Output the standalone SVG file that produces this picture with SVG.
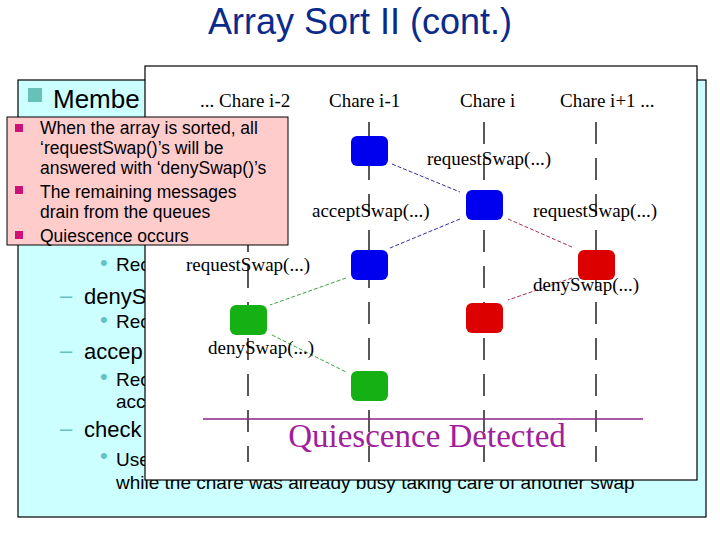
<svg xmlns="http://www.w3.org/2000/svg" width="720" height="540" viewBox="0 0 720 540">
<style>
.s{font-family:"Liberation Sans",Arial,sans-serif}
.bg{font-family:"Liberation Sans",Arial,sans-serif;font-size:22px;fill:#000}
.sm{font-family:"Liberation Sans",Arial,sans-serif;font-size:19px;fill:#000}
.dash{fill:#66c2c2;font-size:22px;font-family:"Liberation Sans",Arial,sans-serif}
.col{stroke:#000;stroke-width:1.3;stroke-dasharray:22,14}
.lbl{font-family:"Liberation Serif","Times New Roman",serif;font-size:19px;fill:#000}
.pk{font-family:"Liberation Sans",Arial,sans-serif;font-size:17.5px;fill:#000}
</style>
<rect width="720" height="540" fill="#fff"/>
<text x="360" y="34" text-anchor="middle" class="s" font-size="36" fill="#0a2a8c">Array Sort II (cont.)</text>
<g id="background-box">
<rect x="18" y="80" width="688" height="437" fill="#ccffff" stroke="#000" stroke-width="1.2"/>
<rect x="28" y="88" width="14" height="14" fill="#66c2b8"/>
<text x="53" y="108" class="s" font-size="26">Membe</text>
<text x="100" y="270" class="dash" font-size="14">•</text><text x="116" y="271" class="sm">Rec</text>
<text x="60" y="303" class="dash">–</text><text x="84" y="304" class="bg">denyS</text>
<text x="100" y="327" class="dash" font-size="14">•</text><text x="116" y="328" class="sm">Rec</text>
<text x="60" y="358" class="dash">–</text><text x="84" y="359" class="bg">accep</text>
<text x="100" y="384" class="dash" font-size="14">•</text><text x="116" y="386" class="sm">Rec</text>
<text x="116" y="408" class="sm">acc</text>
<text x="60" y="436" class="dash">–</text><text x="84" y="437" class="bg">check</text>
<text x="100" y="463" class="dash" font-size="14">•</text><text x="116" y="466" class="sm">Use</text>
<text x="116" y="489" class="sm">while the chare was already busy taking care of another swap</text>
</g>
<g id="figure">
<rect x="145" y="66" width="552" height="414" fill="#fff" stroke="#000" stroke-width="1.2"/>
<text x="200" y="107" class="lbl">...  Chare i-2</text>
<text x="329" y="107" class="lbl">Chare i-1</text>
<text x="460" y="107" class="lbl">Chare i</text>
<text x="560" y="107" class="lbl">Chare i+1  ...</text>
<g id="lifelines">
<line class="col" x1="248" y1="122" x2="248" y2="462"/>
<line class="col" x1="369" y1="122" x2="369" y2="462"/>
<line class="col" x1="484" y1="122" x2="484" y2="462"/>
<line class="col" x1="596" y1="122" x2="596" y2="462"/>
</g>
<line x1="203" y1="419" x2="643" y2="419" stroke="#90208c" stroke-width="1.3"/>
<text x="427" y="447" font-size="33" text-anchor="middle" font-family="Liberation Serif,serif" fill="#a0209c">Quiescence Detected</text>
</g>
<g id="connectors" stroke-width="1" stroke-dasharray="4,2">
<line x1="392" y1="164" x2="460" y2="192" stroke="#3030a0"/>
<line x1="460" y1="219" x2="390" y2="248" stroke="#3030a0"/>
<line x1="508" y1="219" x2="572" y2="247" stroke="#a03050"/>
<line x1="572" y1="278" x2="508" y2="300" stroke="#a03050"/>
<line x1="346" y1="278" x2="270" y2="305" stroke="#40a040"/>
<line x1="272" y1="335" x2="346" y2="372" stroke="#40a040"/>
</g>
<g id="n-b1"><rect x="351" y="136" width="37" height="30" rx="6" fill="#0000ee"/></g>
<g id="n-b2"><rect x="466" y="190" width="37" height="30" rx="6" fill="#0000ee"/></g>
<g id="n-b3"><rect x="351" y="250" width="37" height="30" rx="6" fill="#0000ee"/></g>
<g id="n-r1"><rect x="578" y="250" width="37" height="30" rx="6" fill="#dd0000"/></g>
<g id="n-r2"><rect x="466" y="303" width="37" height="30" rx="6" fill="#dd0000"/></g>
<g id="n-g1"><rect x="230" y="305" width="37" height="30" rx="6" fill="#14b014"/></g>
<g id="n-g2"><rect x="351" y="371" width="37" height="30" rx="6" fill="#14b014"/></g>
<g id="labels">
<text x="427" y="165" class="lbl">requestSwap(...)</text>
<text x="312" y="217" class="lbl">acceptSwap(...)</text>
<text x="533" y="217" class="lbl">requestSwap(...)</text>
<text x="186" y="271" class="lbl">requestSwap(...)</text>
<text x="533" y="291" class="lbl">denySwap(...)</text>
<text x="208" y="354" class="lbl">denySwap(...)</text>
</g>
<g id="callout">
<rect x="7" y="117" width="281" height="128" fill="#ffcccc" stroke="#000" stroke-width="1"/>
<rect x="15" y="124" width="8" height="8" fill="#cc1177"/>
<rect x="15" y="186" width="8" height="8" fill="#cc1177"/>
<rect x="15" y="231" width="8" height="8" fill="#cc1177"/>
<text x="40" y="134" class="pk">When the array is sorted, all</text>
<text x="40" y="154" class="pk">‘requestSwap()’s will be</text>
<text x="40" y="174" class="pk">answered with ‘denySwap()’s</text>
<text x="40" y="198" class="pk">The remaining messages</text>
<text x="40" y="218" class="pk">drain from the queues</text>
<text x="40" y="242" class="pk">Quiescence occurs</text>
</g>
</svg>
